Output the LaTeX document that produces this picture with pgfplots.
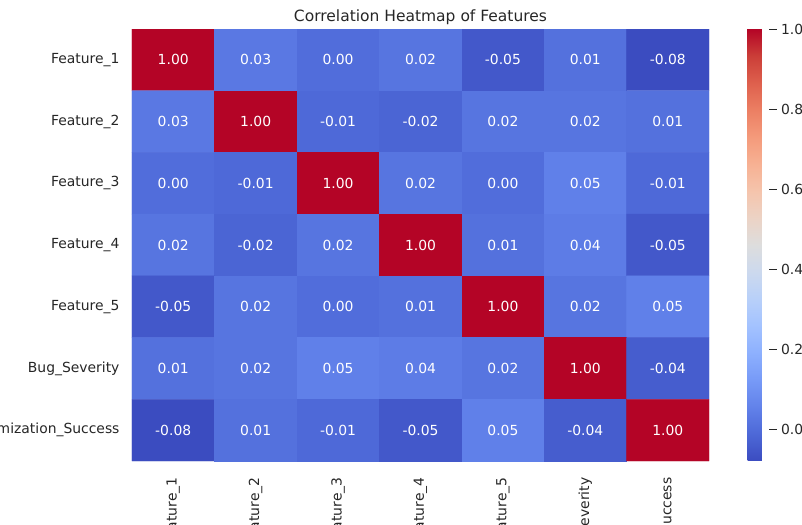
\documentclass[border=0pt]{standalone}
\usepackage{pgfplots}
\pgfplotsset{compat=1.18}
\usepackage{pgfplotstable}
\usetikzlibrary{calc}
\usepackage{fontspec}
\setmainfont{DejaVu Sans}
\definecolor{txt}{RGB}{38,38,38}

\pgfplotsset{
  colormap={coolwarm}{
    rgb255=(59,76,192) rgb255=(77,104,215) rgb255=(98,130,234)
    rgb255=(119,154,247) rgb255=(141,176,254) rgb255=(163,194,255)
    rgb255=(184,208,249) rgb255=(204,217,238) rgb255=(221,221,221)
    rgb255=(236,211,197) rgb255=(245,196,172) rgb255=(247,177,147)
    rgb255=(244,154,123) rgb255=(236,127,99) rgb255=(222,96,77)
    rgb255=(203,62,56) rgb255=(180,4,38)
  },
}

% correlation matrix, row by row (x = column, y = row)
\pgfplotstableread{
x y c
0 0 1.00
1 0 0.03
2 0 0.00
3 0 0.02
4 0 -0.05
5 0 0.01
6 0 -0.08
0 1 0.03
1 1 1.00
2 1 -0.01
3 1 -0.02
4 1 0.02
5 1 0.02
6 1 0.01
0 2 0.00
1 2 -0.01
2 2 1.00
3 2 0.02
4 2 0.00
5 2 0.05
6 2 -0.01
0 3 0.02
1 3 -0.02
2 3 0.02
3 3 1.00
4 3 0.01
5 3 0.04
6 3 -0.05
0 4 -0.05
1 4 0.02
2 4 0.00
3 4 0.01
4 4 1.00
5 4 0.02
6 4 0.05
0 5 0.01
1 5 0.02
2 5 0.05
3 5 0.04
4 5 0.02
5 5 1.00
6 5 -0.04
0 6 -0.08
1 6 0.01
2 6 -0.01
3 6 -0.05
4 6 0.05
5 6 -0.04
6 6 1.00
}\corr

\begin{document}
\begin{tikzpicture}
\path[use as bounding box] (0,0) rectangle (802pt,524pt);
\clip (0,0) rectangle (802pt,524pt);
\begin{axis}[
    at={(132pt,63pt)}, anchor=south west,
    width=577pt, height=432pt, scale only axis,
    xmin=-0.5, xmax=6.5, ymin=-0.5, ymax=6.5,
    y dir=reverse,
    enlargelimits=false,
    axis line style={draw=none},
    major tick length=0pt,
    xtick={0,...,6}, ytick={0,...,6},
    xticklabels={Feature\_1,Feature\_2,Feature\_3,Feature\_4,Feature\_5,Bug\_Severity,Optimization\_Success},
    yticklabels={Feature\_1,Feature\_2,Feature\_3,Feature\_4,Feature\_5,Bug\_Severity,Optimization\_Success},
    x tick label style={rotate=90, anchor=east, font=\fontsize{13.9}{16}\selectfont, text=txt, xshift=-13pt},
    y tick label style={font=\fontsize{13.9}{16}\selectfont, text=txt, xshift=-9pt},
    title={Correlation Heatmap of Features},
    title style={font=\fontsize{15.5}{18}\selectfont, text=txt, at={(0.5,1)}, anchor=south, yshift=-5pt},
    colormap name=coolwarm,
    point meta min=-0.08, point meta max=1.0,
    colorbar,
    colorbar style={
        at={($(parent axis.north east)+(30pt,0)$)}, anchor=north west,
        width=21pt,
        ytick={0,0.2,...,1.0},
        axis line style={draw=none},
        ytick pos=right, yticklabel pos=right,
        tick align=outside,
        major tick length=8pt,
        tick style={txt, line width=0.9pt},
        yticklabel style={font=\fontsize{13.9}{16}\selectfont, text=txt, xshift=1pt,
            /pgf/number format/.cd, fixed, fixed zerofill, precision=1, assume math mode=true},
    },
    nodes near coords={\pgfmathprintnumber[fixed,fixed zerofill,precision=2,assume math mode=true]{\pgfplotspointmeta}},
    every node near coord/.append style={anchor=center, text=white, font=\fontsize{13.9}{16}\selectfont},
]
\addplot[matrix plot*, mesh/cols=7, point meta=explicit] table[x=x, y=y, meta=c] {\corr};
\end{axis}
\end{tikzpicture}
\end{document}
